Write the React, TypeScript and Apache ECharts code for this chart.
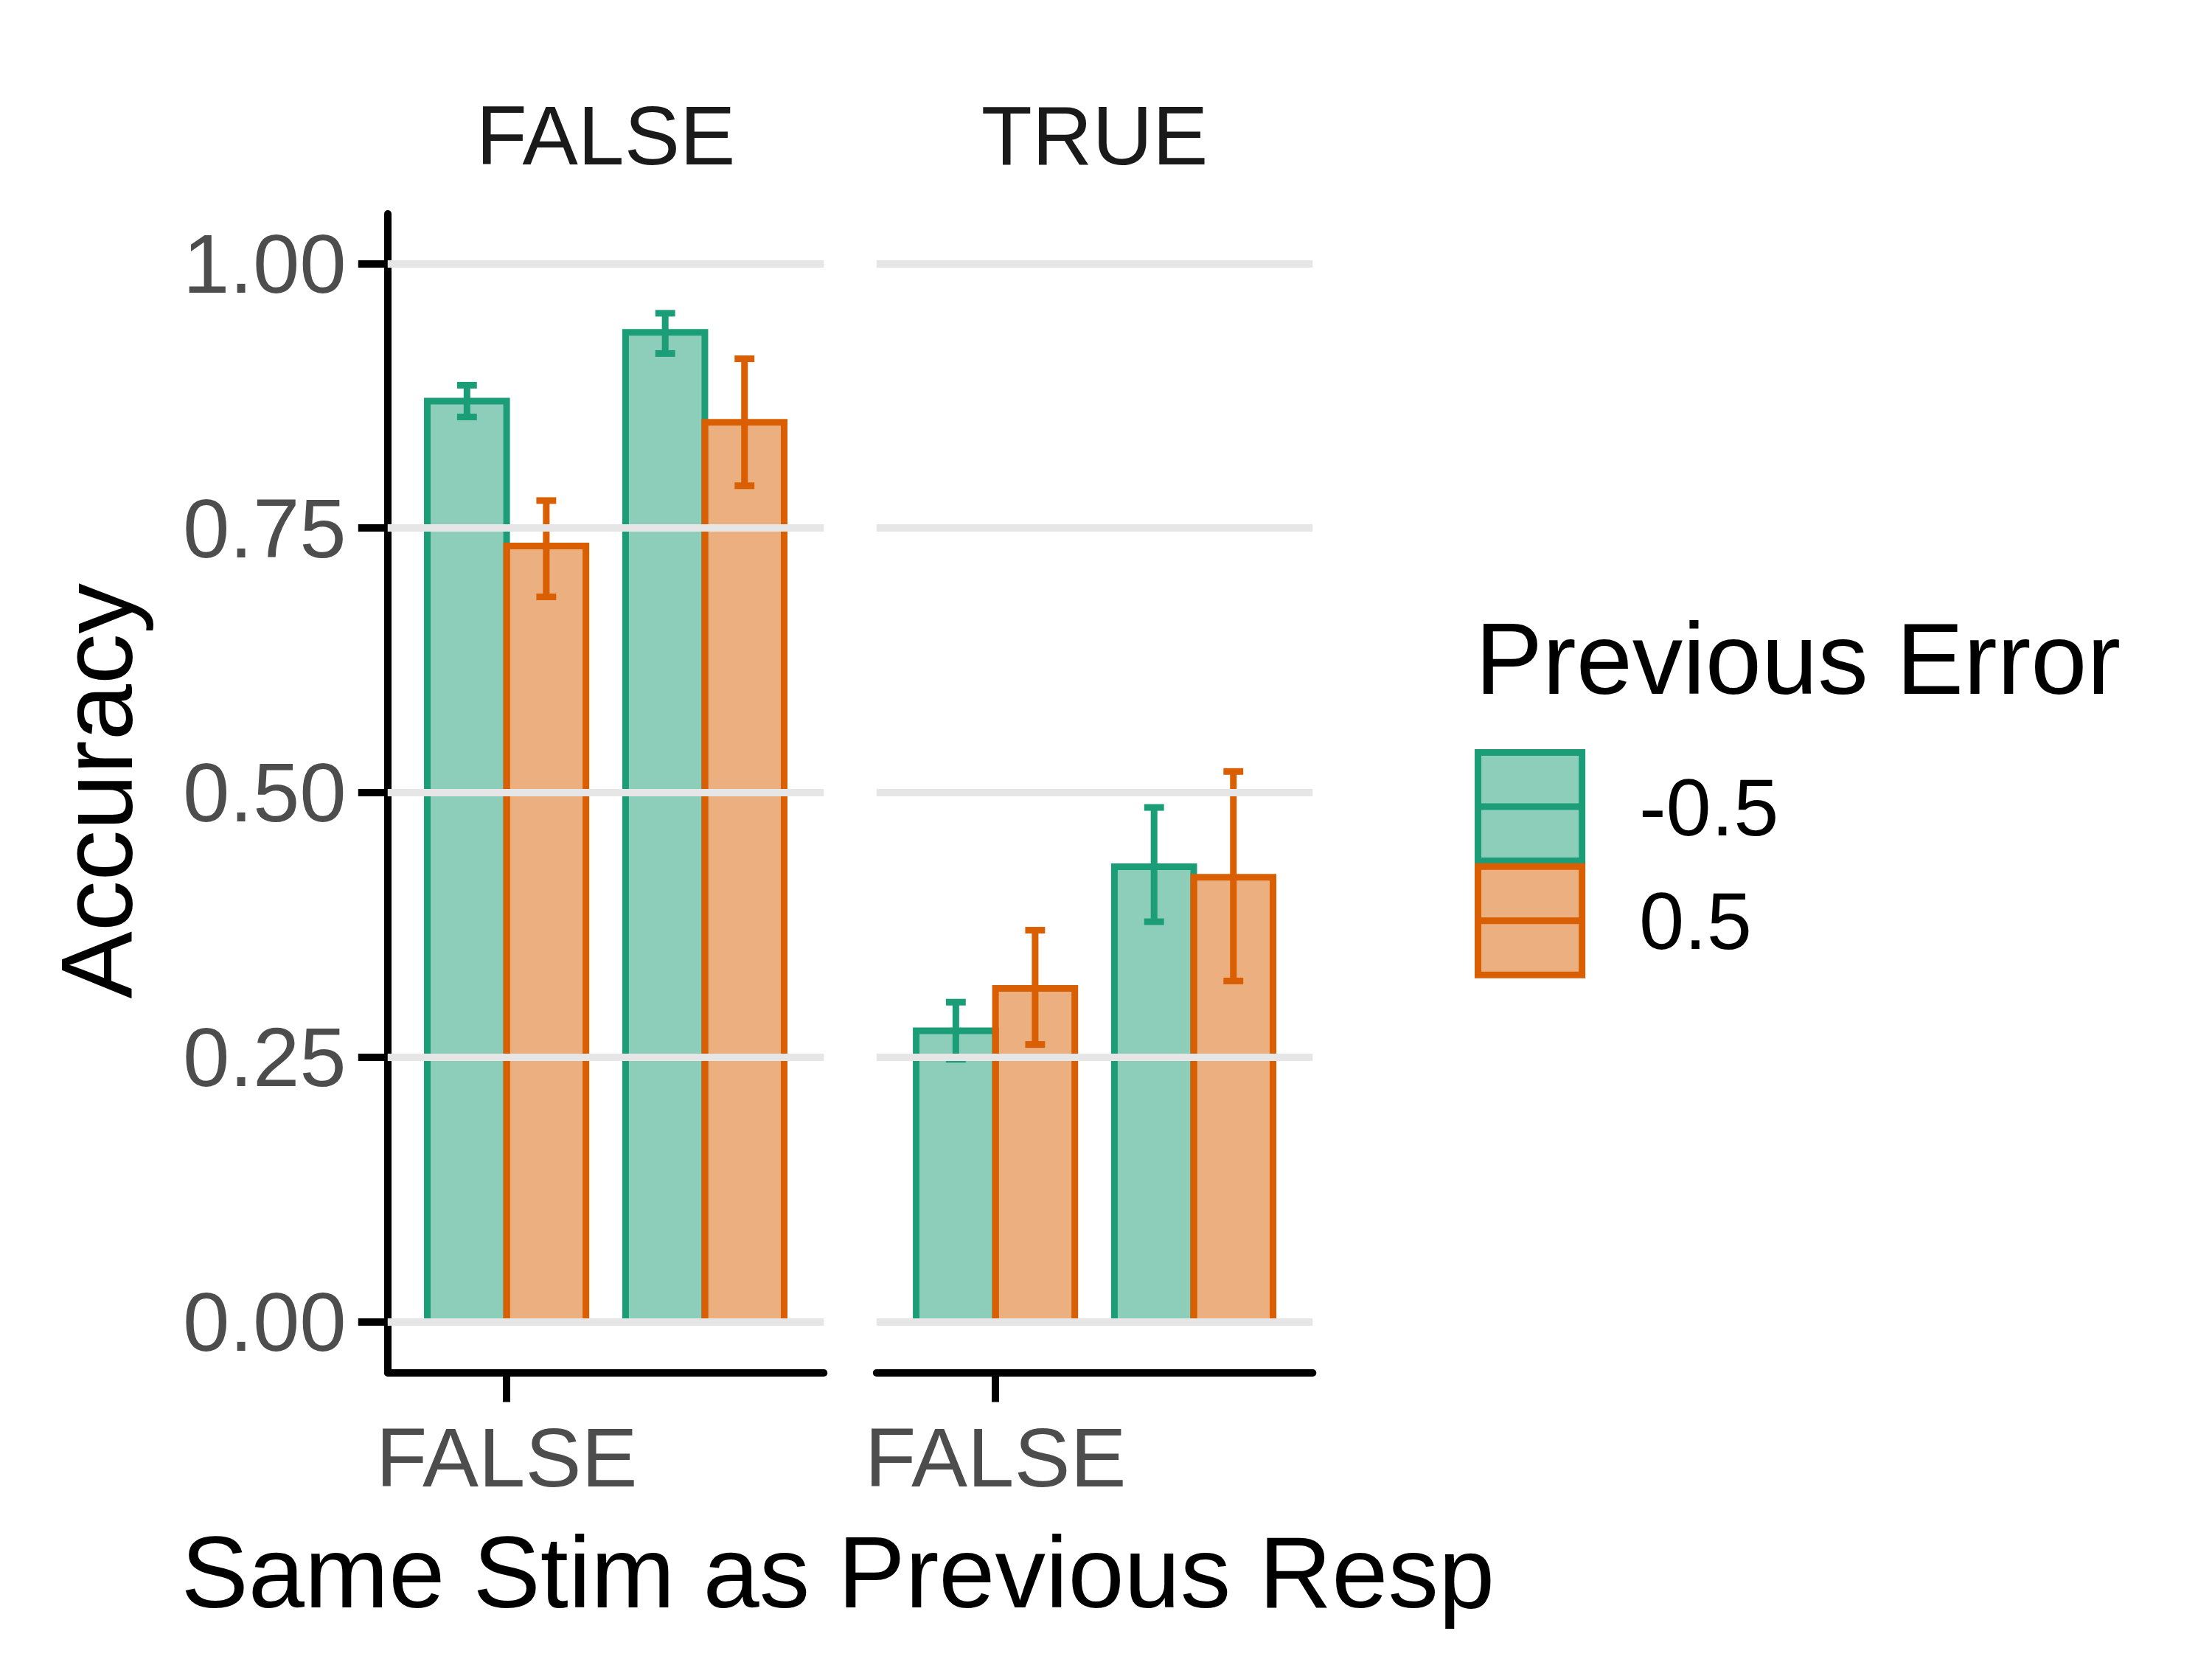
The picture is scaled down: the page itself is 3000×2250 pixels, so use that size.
import React, { useEffect, useRef } from 'react';
import * as echarts from 'echarts';

const panels = ['FALSE', 'TRUE'];
const categories = ['FALSE', 'TRUE'];
const groups = ['-0.5', '0.5'];
const colors = ['#1b9e77', '#d95f02'];

// [panel][group] -> per category values
const means = [
  [[0.87, 0.935], [0.733, 0.85]],
  [[0.275, 0.43], [0.315, 0.42]],
];
const lows = [
  [[0.855, 0.915], [0.685, 0.79]],
  [[0.248, 0.378], [0.262, 0.322]],
];
const highs = [
  [[0.885, 0.953], [0.776, 0.91]],
  [[0.302, 0.486], [0.37, 0.52]],
];
const yTicks = [0, 0.25, 0.5, 0.75, 1];
const xTicks = [1, 2];

const S = 1.933;
const FONT = 'Liberation Sans';

export default function App() {
  const ref = useRef<HTMLDivElement>(null);
  useEffect(() => {
    if (!ref.current) return;
    const chart = echarts.init(ref.current, null, { renderer: 'svg' });
    const top = 150 * S, height = 813 * S, width = 306 * S;
    const lefts = [272 * S, 615 * S];

    const renderItem = (offset: number, color: string) => (params: any, api: any) => {
      const x = api.value(0), y = api.value(1), lo = api.value(2), hi = api.value(3);
      const p0 = api.coord([x + offset - 0.2, 0]);
      const p1 = api.coord([x + offset + 0.2, y]);
      const cx = api.coord([x + offset, 0])[0];
      const yl = api.coord([x, lo])[1];
      const yh = api.coord([x, hi])[1];
      const hw = api.size([0.05, 0])[0];
      const ls = { stroke: color, lineWidth: 9 };
      return {
        type: 'group',
        children: [
          { type: 'rect', shape: { x: p0[0], y: p1[1], width: p1[0] - p0[0], height: p0[1] - p1[1] },
            style: { fill: echarts.color.modifyAlpha(color, 0.5), stroke: color, lineWidth: 9 } },
          { type: 'line', shape: { x1: cx, y1: yl, x2: cx, y2: yh }, style: ls },
          { type: 'line', shape: { x1: cx - hw, y1: yl, x2: cx + hw, y2: yl }, style: ls },
          { type: 'line', shape: { x1: cx - hw, y1: yh, x2: cx + hw, y2: yh }, style: ls },
        ],
      };
    };

    const series: any[] = [];
    panels.forEach((_, pi) => {
      series.push({
        type: 'line', xAxisIndex: pi, yAxisIndex: pi, data: [], silent: true, z: 0,
        markLine: {
          silent: true, symbol: 'none', label: { show: false },
          lineStyle: { color: '#e6e6e6', width: 10, type: 'solid' },
          data: yTicks.map((v) => ({ yAxis: v })),
        },
      });
      groups.forEach((g, gi) => {
        series.push({
          type: 'custom', name: g, xAxisIndex: pi, yAxisIndex: pi, z: 2,
          renderItem: renderItem(gi === 0 ? -0.2 : 0.2, colors[gi]),
          data: categories.map((_, ci) => [ci + 1, means[pi][gi][ci], lows[pi][gi][ci], highs[pi][gi][ci]]),
        });
      });
    });

    const axisLine = { show: true, onZero: false, lineStyle: { color: '#000', width: 10 } };
    const legendItems: any[] = [];
    groups.forEach((g, gi) => {
      const y0 = (528 + gi * 80) * S;
      legendItems.push(
        { type: 'rect', shape: { x: 1037 * S, y: y0, width: 73 * S, height: 76 * S },
          style: { fill: echarts.color.modifyAlpha(colors[gi], 0.5), stroke: colors[gi], lineWidth: 9 } },
        { type: 'line', shape: { x1: 1037 * S, y1: y0 + 38 * S, x2: 1110 * S, y2: y0 + 38 * S },
          style: { stroke: colors[gi], lineWidth: 9 } },
        { type: 'text', x: 1150 * S, y: y0 + 38 * S,
          style: { text: g, font: `110px ${FONT}`, fill: '#000', verticalAlign: 'middle' } },
      );
    });

    chart.setOption({
      animation: false,
      grid: lefts.map((l) => ({ left: l, top, width, height })),
      xAxis: lefts.map((_, i) => ({
        type: 'value', gridIndex: i, min: 0.4, max: 2.6,
        axisLine, splitLine: { show: false },
        axisTick: { show: true, length: 40, customValues: xTicks, lineStyle: { color: '#000', width: 10 } },
        axisLabel: { customValues: xTicks, showMinLabel: true, showMaxLabel: true, hideOverlap: false,
          margin: 58, color: '#4d4d4d', fontSize: 114, fontFamily: FONT,
          formatter: (v: number) => categories[Math.round(v) - 1] ?? '' },
      })),
      yAxis: lefts.map((_, i) => ({
        type: 'value', gridIndex: i, min: -0.048, max: 1.047,
        splitLine: { show: false },
        axisLine: { ...axisLine, show: i === 0 },
        axisTick: { show: i === 0, length: 40, customValues: yTicks, lineStyle: { color: '#000', width: 10 } },
        axisLabel: { show: i === 0, customValues: yTicks, showMinLabel: true, showMaxLabel: true,
          margin: 56, color: '#4d4d4d', fontSize: 114, fontFamily: FONT,
          formatter: (v: number) => v.toFixed(2) },
      })),
      series,
      graphic: [
        ...panels.map((p, i) => ({
          type: 'text', x: (lefts[i] + width / 2), y: 95 * S,
          style: { text: p, font: `113px ${FONT}`, fill: '#1a1a1a', align: 'center', verticalAlign: 'middle' },
        })),
        { type: 'text', x: 127 * S, y: 1103 * S,
          style: { text: 'Same Stim as Previous Resp', font: `137px ${FONT}`, fill: '#000', verticalAlign: 'middle' } },
        { type: 'text', x: 68 * S, y: 555 * S, rotation: Math.PI / 2,
          style: { text: 'Accuracy', font: `137px ${FONT}`, fill: '#000', align: 'center', verticalAlign: 'middle' } },
        { type: 'text', x: 1035 * S, y: 462 * S,
          style: { text: 'Previous Error', font: `137px ${FONT}`, fill: '#000', verticalAlign: 'middle' } },
        ...legendItems,
      ],
    });
    return () => chart.dispose();
  }, []);
  return <div ref={ref} style={{ width: 3000, height: 2250, margin: -8 }} />;
}
